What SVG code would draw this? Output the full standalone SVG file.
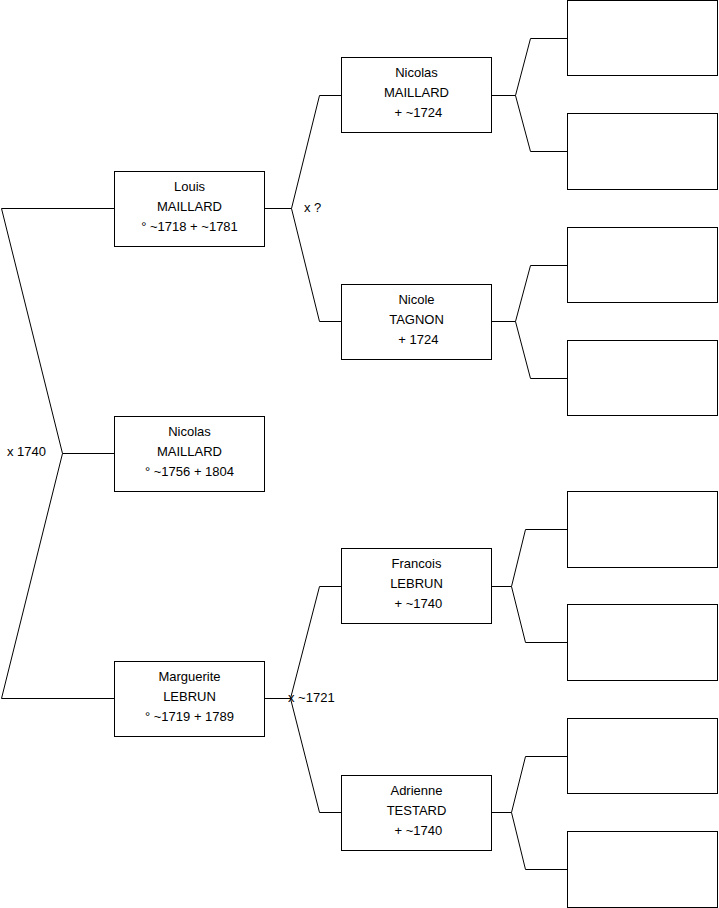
<svg xmlns="http://www.w3.org/2000/svg" width="719" height="908" viewBox="0 0 719 908">
<style>
.box{fill:#fff;stroke:#000;stroke-width:1}
.t{font-family:"Liberation Sans",Arial,sans-serif;font-size:13px;fill:#000;text-anchor:middle}
.l{font-family:"Liberation Sans",Arial,sans-serif;font-size:13px;fill:#000}
.c{fill:none;stroke:#000;stroke-width:1}
</style>
<rect width="719" height="908" fill="#fff"/>
<g id="connectors">
<polyline class="c" points="114,208.5 1.5,208.5 62.5,453.5 1.5,698.5 114,698.5"/>
<line class="c" x1="62.5" y1="453.5" x2="114" y2="453.5"/>
<polyline class="c" points="341,95.5 319.5,95.5 291.5,208.5 319.5,321.5 341,321.5"/>
<line class="c" x1="265" y1="208.5" x2="291.5" y2="208.5"/>
<polyline class="c" points="341,586.5 319.5,586.5 290.5,698.5 319.5,812.5 341,812.5"/>
<line class="c" x1="265" y1="698.5" x2="290.5" y2="698.5"/>
<polyline class="c" points="567,38.5 530.5,38.5 515.5,95.5 530.5,151.5 567,151.5"/>
<line class="c" x1="492" y1="95.5" x2="515.5" y2="95.5"/>
<polyline class="c" points="567,265.5 530.5,265.5 515.5,321.5 530.5,378.5 567,378.5"/>
<line class="c" x1="492" y1="321.5" x2="515.5" y2="321.5"/>
<polyline class="c" points="567,529.5 525.5,529.5 511.5,586.5 525.5,642.5 567,642.5"/>
<line class="c" x1="492" y1="586.5" x2="511.5" y2="586.5"/>
<polyline class="c" points="567,756.5 525.5,756.5 511.5,812.5 525.5,869.5 567,869.5"/>
<line class="c" x1="492" y1="812.5" x2="511.5" y2="812.5"/>
<text class="l" x="304" y="212">x ?</text>
<text class="l" x="7" y="456">x 1740</text>
<text class="l" x="288" y="702">x ~1721</text>
</g>
<g id="n-louis"><rect class="box" x="114.5" y="171.5" width="150" height="75"/>
<text class="t" x="189.5" y="191">Louis</text><text class="t" x="189.5" y="211">MAILLARD</text><text class="t" x="189.5" y="231">° ~1718 + ~1781</text></g>
<g id="n-nicolas1"><rect class="box" x="114.5" y="416.5" width="150" height="75"/>
<text class="t" x="189.5" y="436">Nicolas</text><text class="t" x="189.5" y="456">MAILLARD</text><text class="t" x="189.5" y="476">° ~1756 + 1804</text></g>
<g id="n-marguerite"><rect class="box" x="114.5" y="661.5" width="150" height="75"/>
<text class="t" x="189.5" y="681">Marguerite</text><text class="t" x="189.5" y="701">LEBRUN</text><text class="t" x="189.5" y="721">° ~1719 + 1789</text></g>
<g id="n-nicolas2"><rect class="box" x="341.5" y="57.5" width="150" height="75"/>
<text class="t" x="416.5" y="77">Nicolas</text><text class="t" x="416.5" y="97">MAILLARD</text><text class="t" x="416.5" y="117" xml:space="preserve"> + ~1724</text></g>
<g id="n-nicole"><rect class="box" x="341.5" y="284.5" width="150" height="75"/>
<text class="t" x="416.5" y="304">Nicole</text><text class="t" x="416.5" y="324">TAGNON</text><text class="t" x="416.5" y="344" xml:space="preserve"> + 1724</text></g>
<g id="n-francois"><rect class="box" x="341.5" y="548.5" width="150" height="75"/>
<text class="t" x="416.5" y="568">Francois</text><text class="t" x="416.5" y="588">LEBRUN</text><text class="t" x="416.5" y="608" xml:space="preserve"> + ~1740</text></g>
<g id="n-adrienne"><rect class="box" x="341.5" y="775.5" width="150" height="75"/>
<text class="t" x="416.5" y="795">Adrienne</text><text class="t" x="416.5" y="815">TESTARD</text><text class="t" x="416.5" y="835" xml:space="preserve"> + ~1740</text></g>
<g id="n-g3-1"><rect class="box" x="567.5" y="0.5" width="150" height="75"/></g>
<g id="n-g3-2"><rect class="box" x="567.5" y="113.5" width="150" height="76"/></g>
<g id="n-g3-3"><rect class="box" x="567.5" y="227.5" width="150" height="75"/></g>
<g id="n-g3-4"><rect class="box" x="567.5" y="340.5" width="150" height="75"/></g>
<g id="n-g3-5"><rect class="box" x="567.5" y="491.5" width="150" height="76"/></g>
<g id="n-g3-6"><rect class="box" x="567.5" y="604.5" width="150" height="76"/></g>
<g id="n-g3-7"><rect class="box" x="567.5" y="718.5" width="150" height="75"/></g>
<g id="n-g3-8"><rect class="box" x="567.5" y="831.5" width="150" height="76"/></g>
</svg>
